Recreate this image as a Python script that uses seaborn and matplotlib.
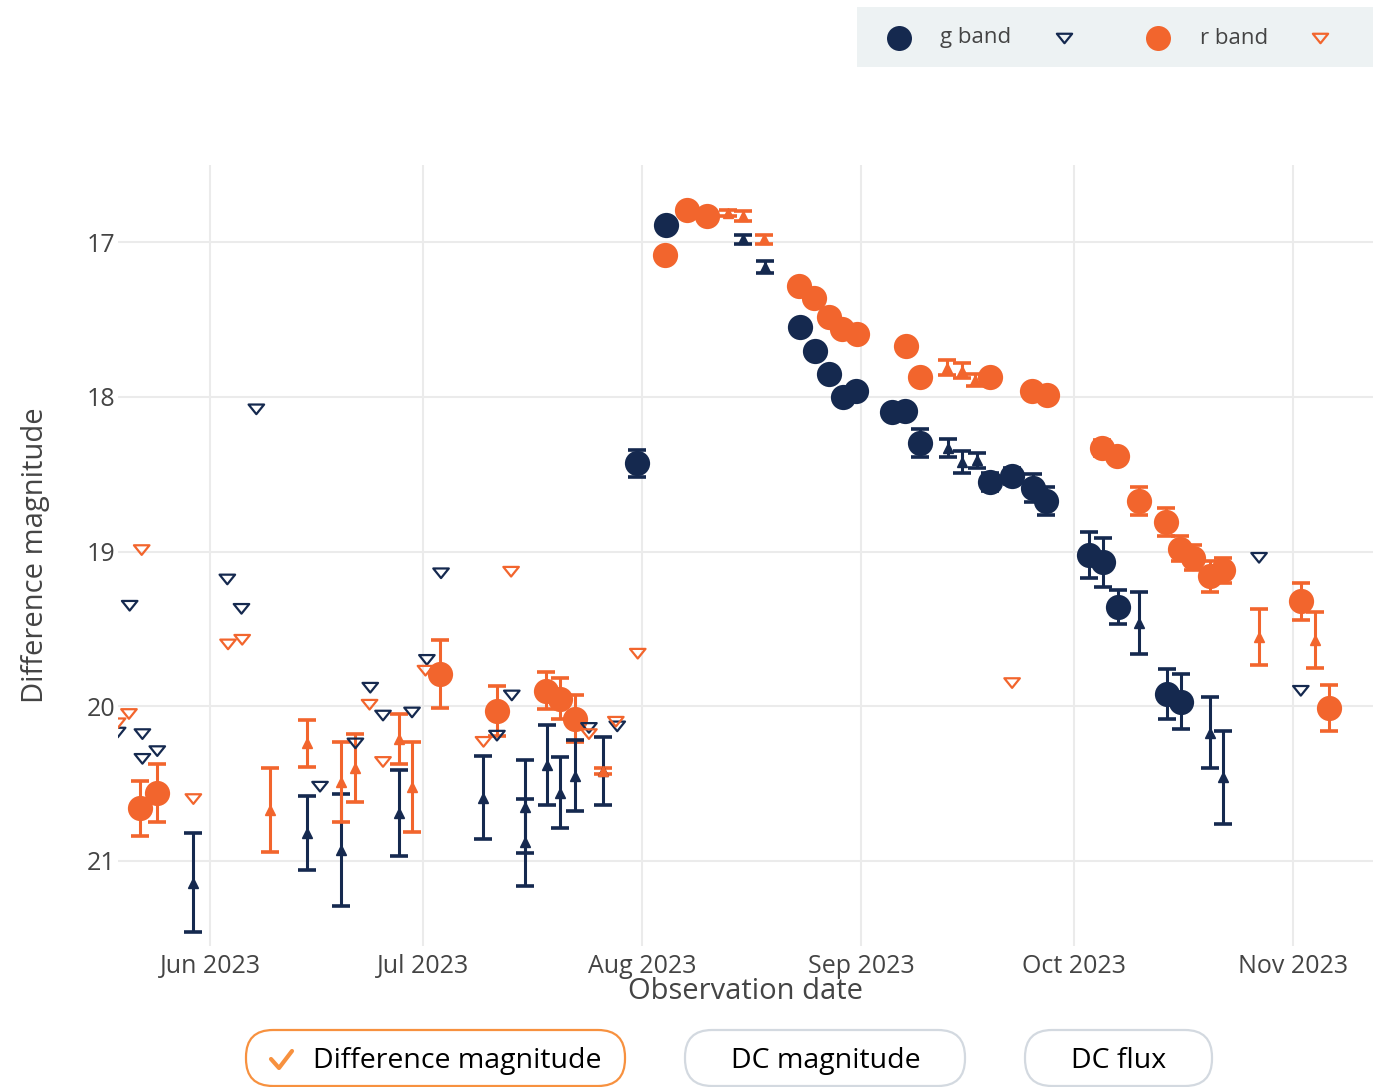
import pandas as pd
import matplotlib
matplotlib.use("Agg")
import matplotlib.pyplot as plt
import matplotlib.dates as mdates
from matplotlib.patches import Rectangle, FancyBboxPatch
from matplotlib.lines import Line2D
from matplotlib.path import Path
from matplotlib.transforms import IdentityTransform
import seaborn as sns

# === Данные (MJD, звёздная величина, ошибка) ===
# g band: детекции (кружки)
g_det_mjd = [60156.3, 60160.4, 60179.3, 60181.5, 60183.4, 60185.4, 60187.2, 60192.3, 60194.2, 60196.3,
             60206.2, 60209.3, 60212.2, 60214.1, 60220.2, 60222.1, 60224.2, 60231.2, 60233.1]
g_det_mag = [18.43, 16.89, 17.55, 17.70, 17.85, 18.00, 17.96, 18.10, 18.09, 18.30,
             18.55, 18.51, 18.59, 18.67, 19.02, 19.07, 19.36, 19.92, 19.97]
g_det_err = [0.085, 0.03, 0.03, 0.03, 0.03, 0.04, 0.04, 0.04, 0.04, 0.09,
             0.06, 0.05, 0.09, 0.09, 0.15, 0.16, 0.11, 0.16, 0.18]

# g band: слабые детекции (треугольники с ошибками)
g_weak_mjd = [60093.6, 60109.6, 60114.4, 60122.6, 60134.6, 60140.4, 60140.5, 60143.6, 60145.4, 60147.6,
              60151.5, 60171.3, 60174.4, 60200.2, 60202.2, 60204.3, 60227.2, 60237.2, 60239.1]
g_weak_mag = [21.14, 20.82, 20.93, 20.69, 20.59, 20.65, 20.88, 20.38, 20.56, 20.45,
              20.42, 16.98, 17.16, 18.33, 18.42, 18.41, 19.46, 20.17, 20.46]
g_weak_err = [0.32, 0.24, 0.36, 0.28, 0.27, 0.30, 0.28, 0.26, 0.23, 0.23,
              0.22, 0.03, 0.04, 0.06, 0.07, 0.05, 0.20, 0.23, 0.30]

# g band: верхние пределы
g_lim_mjd = [60082.9, 60084.6, 60086.4, 60086.4, 60088.5, 60098.4, 60100.4, 60102.5, 60111.5, 60116.5,
             60118.6, 60120.4, 60124.5, 60126.6, 60128.6, 60136.5, 60138.6, 60149.5, 60153.5, 60244.2,
             60250.1]
g_lim_mag = [20.17, 19.35, 20.18, 20.34, 20.29, 19.18, 19.37, 18.08, 20.52, 20.24,
             19.88, 20.06, 20.04, 19.70, 19.14, 20.19, 19.93, 20.14, 20.13, 19.04,
             19.90]

# r band: детекции
r_det_mjd = [60086.1, 60088.5, 60128.5, 60136.5, 60143.5, 60145.4, 60147.6, 60160.3, 60163.4, 60166.2,
             60179.2, 60181.3, 60183.4, 60185.3, 60187.4, 60194.3, 60196.3, 60206.2, 60212.1, 60214.2,
             60222.0, 60224.1, 60227.2, 60231.1, 60233.0, 60234.8, 60237.2, 60239.1, 60250.1, 60254.1]
r_det_mag = [20.66, 20.56, 19.79, 20.03, 19.90, 19.95, 20.08, 17.08, 16.79, 16.83,
             17.28, 17.36, 17.48, 17.56, 17.59, 17.67, 17.87, 17.87, 17.96, 17.99,
             18.33, 18.38, 18.67, 18.81, 18.98, 19.04, 19.16, 19.12, 19.32, 20.01]
r_det_err = [0.18, 0.19, 0.22, 0.16, 0.12, 0.13, 0.15, 0.03, 0.02, 0.02,
             0.03, 0.03, 0.03, 0.03, 0.04, 0.03, 0.03, 0.03, 0.03, 0.03,
             0.05, 0.04, 0.09, 0.09, 0.08, 0.08, 0.10, 0.08, 0.12, 0.15]

# r band: слабые детекции
r_weak_mjd = [60104.5, 60109.6, 60114.5, 60116.5, 60122.6, 60124.5, 60151.5, 60169.2, 60171.3, 60174.3,
              60200.1, 60202.2, 60204.1, 60244.2, 60252.1]
r_weak_mag = [20.67, 20.24, 20.49, 20.40, 20.21, 20.52, 20.42, 16.81, 16.83, 16.98,
              17.81, 17.83, 17.89, 19.55, 19.57]
r_weak_err = [0.27, 0.15, 0.26, 0.22, 0.16, 0.29, 0.02, 0.02, 0.03, 0.03,
              0.05, 0.05, 0.04, 0.18, 0.18]

# r band: верхние пределы
r_lim_mjd = [60082.9, 60084.5, 60086.3, 60093.6, 60098.5, 60100.5, 60118.5, 60120.4, 60126.4, 60134.6,
             60138.5, 60149.5, 60153.3, 60156.4, 60209.3]
r_lim_mag = [20.11, 20.05, 18.99, 20.60, 19.60, 19.57, 19.99, 20.36, 19.77, 20.23,
             19.13, 20.18, 20.10, 19.66, 19.85]

NAVY = "#15294f"
ORANGE = "#f2652d"
W, H = 1397, 1087


def to_dt(mjd):
    return pd.to_datetime(pd.Series(mjd) - 40587, unit="D")


# Открытый треугольник вниз (как в plotly)
tri_down = Path([(-1, 0.62), (1, 0.62), (0, -0.62), (-1, 0.62)], closed=True)

sns.set_theme(style="white")
plt.rcParams["font.family"] = ["Open Sans", "DejaVu Sans"]

fig = plt.figure(figsize=(W / 100, H / 100), dpi=100)
ax = fig.add_axes([118 / W, 1 - 946 / H, (1373 - 118) / W, (946 - 165) / H])

bands = [
    (NAVY, g_det_mjd, g_det_mag, g_det_err, g_weak_mjd, g_weak_mag, g_weak_err, g_lim_mjd, g_lim_mag),
    (ORANGE, r_det_mjd, r_det_mag, r_det_err, r_weak_mjd, r_weak_mag, r_weak_err, r_lim_mjd, r_lim_mag),
]

for c, dm, dg, de, wm, wg, we, lm, lg in bands:
    ax.errorbar(to_dt(dm), dg, yerr=de, fmt="none", ecolor=c, elinewidth=2.2,
                capsize=6.3, capthick=2.6, zorder=2)
    sns.scatterplot(x=to_dt(dm), y=dg, ax=ax, s=330, color=c, linewidth=0,
                    zorder=3, legend=False)

for c, dm, dg, de, wm, wg, we, lm, lg in bands:
    ax.errorbar(to_dt(wm), wg, yerr=we, fmt="^", color=c, markersize=7.5, elinewidth=2.2,
                capsize=6.3, capthick=2.6, zorder=4)
    sns.scatterplot(x=to_dt(lm), y=lg, ax=ax, marker=tri_down, s=125, color=c,
                    facecolor="none", edgecolor=c, linewidth=1.6, zorder=5, legend=False)

ax.set_xlim(to_dt([60082.95])[0], to_dt([60260.3])[0])
ax.set_ylim(21.55, 16.5)
ax.set_yticks([17, 18, 19, 20, 21])
ax.xaxis.set_major_locator(mdates.MonthLocator())
ax.xaxis.set_major_formatter(mdates.DateFormatter("%b %Y"))
ax.grid(True, color="#ebebeb", linewidth=1.5)
ax.set_axisbelow(True)
for s in ax.spines.values():
    s.set_visible(False)
ax.tick_params(axis="both", length=0, labelsize=18, labelcolor="#444444")
ax.tick_params(axis="x", pad=6)
ax.tick_params(axis="y", pad=2)
ax.set_xlabel("Observation date", fontsize=21, color="#444444")
ax.set_ylabel("Difference magnitude", fontsize=21, color="#444444")
ax.xaxis.set_label_coords(0.5, (946 - 977) / (946 - 165))
ax.yaxis.set_label_coords((50 - 118) / (1373 - 118), 0.5)

# === Легенда сверху ===
ident = IdentityTransform()
fig.add_artist(Rectangle((857, H - 67), 516, 60, facecolor="#edf2f3", edgecolor="none",
                         transform=ident))
legend_items = [(899, "o", NAVY, 18), (1064, tri_down, NAVY, 11),
                (1158, "o", ORANGE, 18), (1320, tri_down, ORANGE, 11)]
for x, m, c, ms in legend_items:
    filled = m == "o"
    fig.add_artist(Line2D([x], [H - 38], marker=m, markersize=ms, linestyle="none",
                          markerfacecolor=c if filled else "none", markeredgecolor=c,
                          markeredgewidth=0 if filled else 1.6, transform=ident))
fig.text(940 / W, 1 - 38 / H, "g band", fontsize=16, color="#444444", va="center", ha="left")
fig.text(1200 / W, 1 - 38 / H, "r band", fontsize=16, color="#444444", va="center", ha="left")

# === Кнопки снизу ===
buttons = [(246, 625, "#f7913f", "Difference magnitude", 457),
           (685, 965, "#d3d9e0", "DC magnitude", 826),
           (1025, 1212, "#d3d9e0", "DC flux", 1119)]
for x0, x1, ec, label, tx in buttons:
    fig.add_artist(FancyBboxPatch((x0, H - 1086), x1 - x0, 56,
                                  boxstyle="round,pad=0,rounding_size=27",
                                  facecolor="white", edgecolor=ec, linewidth=1.6,
                                  transform=ident))
    fig.text(tx / W, 1 - 1061 / H, label, fontsize=20.5, color="#000000",
             ha="center", va="center")
fig.add_artist(Line2D([271, 279, 292], [H - 1059, H - 1068, H - 1051], color="#f7913f",
                      linewidth=3, solid_capstyle="round", solid_joinstyle="round",
                      transform=ident))

fig.savefig("out.png", dpi=100)
